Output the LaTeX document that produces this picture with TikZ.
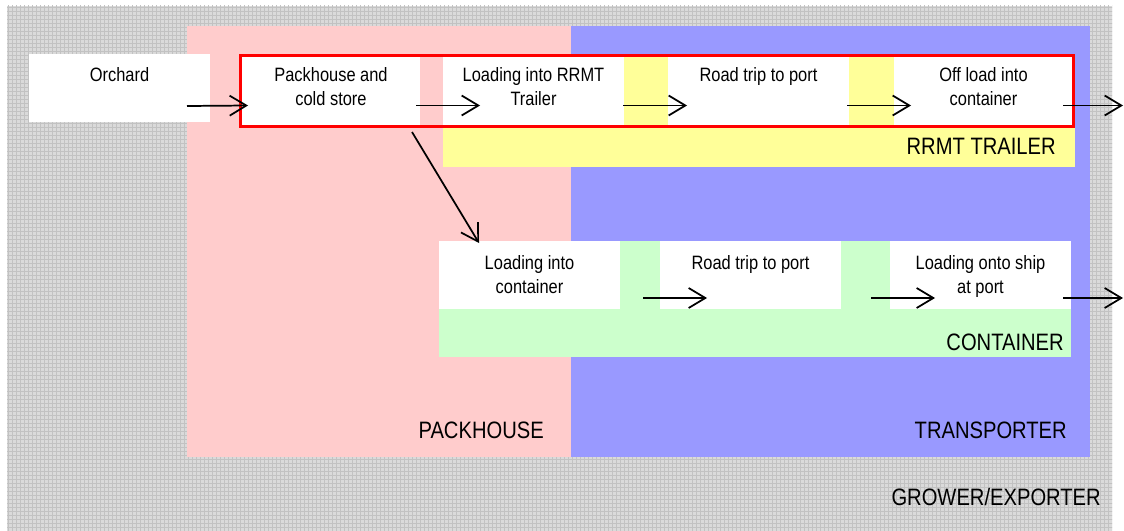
\documentclass[tikz,border=0pt]{standalone}
\usepackage{fontspec}
\newfontfamily\lblfont[FakeStretch=0.85]{Liberation Sans}
\usetikzlibrary{fit,calc,patterns,arrows.meta}
\definecolor{bggray}{HTML}{DADADA}
\definecolor{gridgray}{HTML}{C2C2C2}
\definecolor{phpink}{HTML}{FFCCCC}
\definecolor{trblue}{HTML}{9999FF}
\definecolor{rryellow}{HTML}{FFFF99}
\definecolor{ctgreen}{HTML}{CCFFCC}
\definecolor{grpred}{HTML}{FF0000}
\begin{document}
\begin{tikzpicture}[x=0.75pt,y=-0.75pt,
  region/.style={inner sep=0pt, outer sep=0pt, draw=none},
  wbox/.style={fill=white, inner sep=0pt, outer sep=0pt, draw=none},
  redbox/.style={draw=grpred, line width=2.4pt, inner sep=0pt, outer sep=0pt},
  stxt/.style={font=\lblfont\fontsize{14.5}{18}\selectfont, inner sep=0pt, anchor=base},
  btxt/.style={font=\lblfont\fontsize{17.8}{21}\selectfont, inner sep=0pt, anchor=base east},
  arr/.style={line width=1.3pt, -{Straight Barb[length=12.5pt,width=15pt,line width=1.3pt]}},
]
\useasboundingbox (0,0) rectangle (1124,531);
\fill[white] (0,0) rectangle (1124,531);
% regions
\node[region, fill=bggray, fit={(7,6)(1112,531)}] (grower) {};
\fill[pattern=grid, pattern color=gridgray] (grower.north west) rectangle (grower.south east);
\node[region, fill=phpink, fit={(187,26)(571,457)}] (packhouse) {};
\node[region, fill=trblue, fit={(571,26)(1090,457)}] (transporter) {};
\node[region, fill=rryellow, fit={(443,54)(1075,167)}] (trailer) {};
\node[region, fill=ctgreen, fit={(439,241)(1071,357)}] (container) {};
% white boxes, top row
\node[wbox, fit={(29,54)(210,122)}] (orch) {};
\node[wbox, fit={(240,54)(420,125)}] (pack) {};
\node[wbox, fit={(443,54)(624,125)}] (rrmt) {};
\node[wbox, fit={(668,54)(849,125)}] (road1) {};
\node[wbox, fit={(894,54)(1073,125)}] (off) {};
% white boxes, bottom row
\node[wbox, fit={(439,241)(620,309)}] (lic) {};
\node[wbox, fit={(660,241)(841,309)}] (road2) {};
\node[wbox, fit={(890,241)(1071,309)}] (ship) {};
% red group frame
\node[redbox, fit={(240.5,55.5)(1073.5,126.5)}] (grp) {};
% box texts
\node[stxt] at (119.5,82) {Orchard};
\node[stxt] at (331,82) {Packhouse and};
\node[stxt] at (331,106) {cold store};
\node[stxt] at (533.5,82) {Loading into RRMT};
\node[stxt] at (533.5,106) {Trailer};
\node[stxt] at (758.5,82) {Road trip to port};
\node[stxt] at (983.5,82) {Off load into};
\node[stxt] at (983.5,106) {container};
\node[stxt] at (529.5,269) {Loading into};
\node[stxt] at (529.5,293) {container};
\node[stxt] at (750.5,269) {Road trip to port};
\node[stxt] at (980.5,269) {Loading onto ship};
\node[stxt] at (980.5,293) {at port};
% region labels
\node[btxt] at (1056,155) {RRMT TRAILER};
\node[btxt] at (1064,350) {CONTAINER};
\node[btxt] at (544,438) {PACKHOUSE};
\node[btxt] at (1067,438) {TRANSPORTER};
\node[btxt] at (1101,505) {GROWER/EXPORTER};
% arrows
\coordinate (out1) at ($(off.east)+(50,16)$);
\coordinate (out2) at ($(ship.east)+(52,23)$);
\draw[arr] ($(orch.east)+(-23,18)$) -- ($(pack.west)+(8,16)$);
\draw[arr] ($(pack.east)+(-4,16)$) -- ($(rrmt.west)+(37,16)$);
\draw[arr] ($(rrmt.east)+(-1,16)$) -- ($(road1.west)+(19,16)$);
\draw[arr] ($(road1.east)+(-2,16)$) -- ($(off.west)+(17,16)$);
\draw[arr] ($(off.east)+(-10,16)$) -- (out1);
\draw[arr] ($(pack.south east)+(-8,7)$) -- ($(lic.north west)+(40,2)$);
\draw[arr] ($(lic.east)+(23,23)$) -- ($(road2.west)+(47,23)$);
\draw[arr] ($(road2.east)+(30,23)$) -- ($(ship.west)+(45,23)$);
\draw[arr] ($(ship.east)+(-8,23)$) -- (out2);
\end{tikzpicture}
\end{document}
